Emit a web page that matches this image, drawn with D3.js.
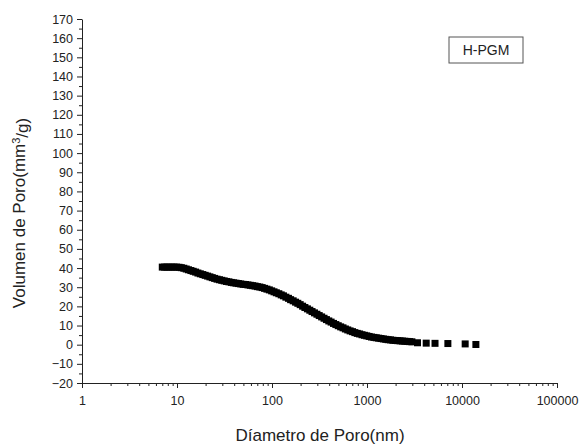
<!DOCTYPE html>
<html lang="es">
<head>
<meta charset="utf-8">
<title>H-PGM</title>
<script src="https://d3js.org/d3.v7.min.js"></script>
<style>
  body { margin: 0; background: #fff; }
  svg text { font-family: "Liberation Sans", Arial, sans-serif; fill: #222; }
  .axis path, .axis line { stroke: #222; stroke-width: 1px; }
</style>
</head>
<body>
<div id="chart"></div>
<script>
// pore diameter (nm) and pore volume (mm3/g)
var diam = [7, 7.4, 7.85, 8.3, 8.8, 9.3, 9.9, 10.5, 11.1, 11.8, 12.5, 13.2, 14.0, 14.8, 15.7, 16.6, 17.6, 18.7, 19.8,
            21.0, 22.2, 23.5, 24.9, 26.4, 28.0, 29.6, 31.4, 33.2, 35.2, 37.3, 39.5, 41.8, 44.3, 46.9, 49.7, 52.6,
            55.8, 59.1, 62.6, 66.3, 70.2, 74.4, 78.8, 83.5, 88.4, 93.7, 99.2, 105, 111, 118, 125, 132, 140, 149,
            157, 167, 177, 187, 198, 210, 222, 236, 250, 264, 280, 297, 314, 333, 353, 374, 396, 419, 444, 470,
            498, 528, 559, 592, 627, 664, 704, 745, 790, 836, 886, 939, 994, 1053, 1115, 1182, 1252, 1326, 1405,
            1488, 1576, 1670, 1769, 1874, 1985, 2103, 2228, 2360, 2500, 2648, 2805, 2970,
            3400, 4200, 5200, 7100, 10800, 14000];
var vol  = [40.5, 40.5, 40.5, 40.5, 40.5, 40.5, 40.5, 40.4, 40.2, 39.9, 39.5, 39.1, 38.7, 38.3, 37.9, 37.4, 37.0, 36.6, 36.2,
            35.8, 35.4, 35.0, 34.6, 34.2, 33.9, 33.6, 33.3, 33.0, 32.8, 32.5, 32.3, 32.1, 31.9, 31.7, 31.5, 31.4,
            31.2, 31.0, 30.8, 30.6, 30.3, 30.1, 29.8, 29.4, 29.0, 28.6, 28.1, 27.6, 27.1, 26.6, 26.0, 25.5, 24.8, 24.2,
            23.5, 22.9, 22.2, 21.6, 20.9, 20.1, 19.4, 18.7, 18.0, 17.3, 16.6, 15.9, 15.2, 14.5, 13.8, 13.1, 12.4, 11.8, 11.1, 10.5,
            9.9, 9.3, 8.8, 8.2, 7.7, 7.2, 6.8, 6.3, 5.9, 5.6, 5.2, 4.9, 4.6, 4.3, 4.0, 3.8, 3.6, 3.4, 3.2,
            3.0, 2.8, 2.6, 2.5, 2.3, 2.2, 2.1, 2.0, 1.9, 1.8, 1.7, 1.6, 1.5,
            1.0, 0.8, 0.7, 0.6, 0.4, 0.1];

var xMajor = [1, 10, 100, 1000, 10000, 100000];
var yMajor = [-20, -10, 0, 10, 20, 30, 40, 50, 60, 70, 80, 90, 100, 110, 120, 130, 140, 150, 160, 170];
var legendLabel = "H-PGM";

var margin = {top: 19, right: 28, bottom: 61, left: 82},
    width = 585 - margin.left - margin.right,
    height = 444 - margin.top - margin.bottom;

var svg = d3.select("#chart")
  .append("svg")
    .attr("width", 585)
    .attr("height", 444)
  .append("g")
    .attr("transform", "translate(" + margin.left + "," + margin.top + ")");

var x = d3.scaleLog()
    .domain([1, 100000])
    .range([0, width]);

var y = d3.scaleLinear()
    .domain([-20, 170])
    .range([height, 0]);

// minor ticks first, so the major axis sits on top
var xMinor = [];
xMajor.slice(0, -1).forEach(function(m) {
  for (var k = 2; k <= 9; k++) xMinor.push(m * k);
});
var yMinor = yMajor.slice(0, -1).map(function(v) { return v + 5; });

svg.append("g")
    .attr("class", "axis")
    .attr("transform", "translate(0," + height + ")")
    .call(d3.axisBottom(x).tickValues(xMinor).tickSize(3).tickFormat(""))
    .select(".domain").remove();

svg.append("g")
    .attr("class", "axis")
    .call(d3.axisLeft(y).tickValues(yMinor).tickSize(3).tickFormat(""))
    .select(".domain").remove();

// X axis
svg.append("g")
    .attr("class", "axis")
    .attr("transform", "translate(0," + height + ")")
    .call(d3.axisBottom(x).tickValues(xMajor).tickSize(5).tickSizeOuter(0)
      .tickFormat(function(d) { return String(d); }))
    .selectAll("text")
      .attr("dy", "1.15em")
      .style("font-size", "12.5px");

// Y axis
svg.append("g")
    .attr("class", "axis")
    .call(d3.axisLeft(y).tickValues(yMajor).tickSize(5).tickSizeOuter(0))
    .selectAll("text")
      .attr("x", -9)
      .style("font-size", "12.5px");

// axis titles
svg.append("text")
    .attr("x", 238)
    .attr("y", height + 58)
    .style("text-anchor", "middle")
    .style("font-size", "17px")
    .text("Díametro de Poro(nm)");

var yTitle = svg.append("text")
    .attr("transform", "rotate(-90)")
    .attr("x", -194)
    .attr("y", -57)
    .style("text-anchor", "middle")
    .style("font-size", "17px");
yTitle.append("tspan").text("Volumen de Poro(mm");
yTitle.append("tspan").attr("dy", "-0.45em").style("font-size", "11px").text("3");
yTitle.append("tspan").attr("dy", "0.45em").text("/g)");

// data markers
var msize = 7;
svg.append("g")
  .selectAll("rect")
  .data(diam.map(function(d, i) { return {d: d, v: vol[i]}; }))
  .enter()
  .append("rect")
    .attr("x", function(p) { return x(p.d) - msize / 2; })
    .attr("y", function(p) { return y(p.v) - msize / 2; })
    .attr("width", msize)
    .attr("height", msize)
    .style("fill", "#000");

// legend box
var legend = svg.append("g").attr("transform", "translate(367,18)");
legend.append("rect")
    .attr("width", 74)
    .attr("height", 26)
    .style("fill", "none")
    .style("stroke", "#555")
    .style("stroke-width", 1);
legend.append("text")
    .attr("x", 37)
    .attr("y", 18)
    .style("text-anchor", "middle")
    .style("font-size", "14px")
    .text(legendLabel);
</script>
</body>
</html>
